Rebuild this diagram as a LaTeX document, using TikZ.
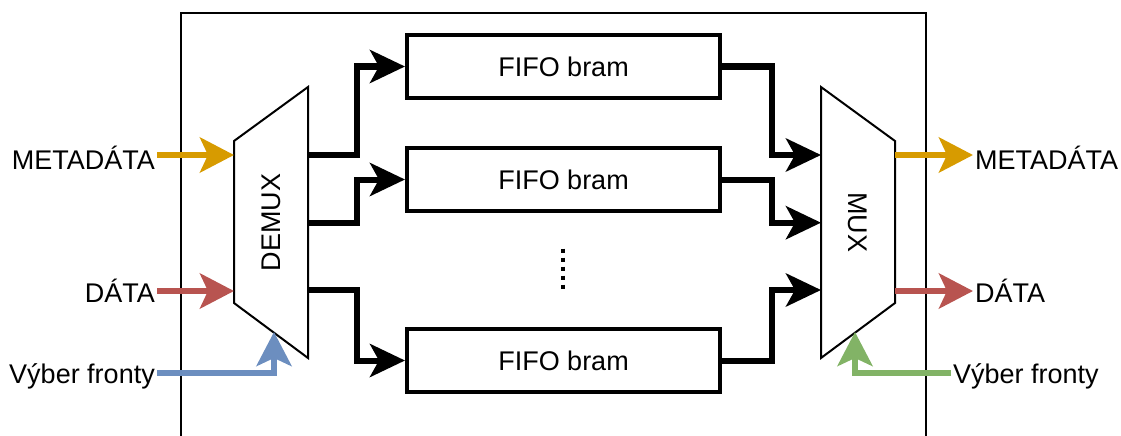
\documentclass[tikz,border=0pt]{standalone}
\usepackage{fontspec}
\setmainfont{Liberation Sans}
\usetikzlibrary{arrows.meta}
\definecolor{cyel}{HTML}{D79B00}
\definecolor{cred}{HTML}{B85450}
\definecolor{cblue}{HTML}{6C8EBF}
\definecolor{cgreen}{HTML}{82B366}
\begin{document}
\begin{tikzpicture}[x=1pt,y=-1pt,
  txt/.style={font=\fontsize{27}{32}\selectfont, inner sep=2pt},
  fifo/.style={draw, line width=4pt, minimum width=313pt, minimum height=63pt, inner sep=0pt, font=\fontsize{27}{32}\selectfont},
  bus/.style={line width=6pt, -{Stealth[length=35pt,width=33pt,inset=9pt]}},
  sig/.style={line width=6pt, -{Stealth[length=34pt,width=35pt,inset=8pt]}},
  muxshape/.style={draw, line width=2pt, fill=white, line join=miter}
]
\useasboundingbox (0,0) rectangle (1121,436);
% outer frame (open at bottom)
\draw[line width=2pt] (181,445) -- (181,13) -- (926,13) -- (926,445);

% FIFO boxes
\node[fifo] (f1) at (563.5,66.5) {FIFO bram};
\node[fifo] (f2) at (563.5,179.5) {FIFO bram};
\node[fifo] (f3) at (563.5,360.5) {FIFO bram};

% DEMUX and MUX shapes
\draw[muxshape] (234,141) -- (308,87) -- (308,358) -- (234,303) -- cycle;
\node[txt, rotate=90] (demux) at (271,222.5) {DEMUX};
\draw[muxshape] (821,87) -- (895,141) -- (895,303) -- (821,358) -- cycle;
\node[txt, rotate=-90] (mux) at (858,222.5) {MUX};

% ports
\coordinate (d1) at (308,155);
\coordinate (d2) at (308,222.7);
\coordinate (d3) at (308,290);
\coordinate (dm) at (234,155);
\coordinate (dd) at (234,291);
\coordinate (ds) at (274,332);
\coordinate (dsc) at (274,373);
\coordinate (m1) at (821,155);
\coordinate (m2) at (821,222.7);
\coordinate (m3) at (821,290);
\coordinate (mm) at (895,155);
\coordinate (md) at (895,291);
\coordinate (ms) at (855,332);
\coordinate (msc) at (855,373);

% black buses
\draw[bus] (d1) -- ++(49,0) |- (f1.west);
\draw[bus] (d2) -- ++(49,0) |- (f2.west);
\draw[bus] (d3) -- ++(49,0) |- (f3.west);
\draw[bus] (f1.east) -- ++(50,0) |- (m1);
\draw[bus] (f2.east) -- ++(50,0) |- (m2);
\draw[bus] (f3.east) -- ++(50,0) |- (m3);

% dots
\draw[line width=4pt, dash pattern=on 4pt off 5pt] (563.3,248.7) -- (563.3,290);

% labels
\node[txt, anchor=base east] (lmeta) at (157,169.5) {METADÁTA};
\node[txt, anchor=base east] (ldata) at (157,302.5) {DÁTA};
\node[txt, anchor=base east] (lsel) at (157,383) {Výber fronty};
\node[txt, anchor=base west] (rmeta) at (973,169.5) {METADÁTA};
\node[txt, anchor=base west] (rdata) at (973,302.5) {DÁTA};
\node[txt, anchor=base west] (rsel) at (951,383) {Výber fronty};

% coloured signals
\draw[sig, cyel] (lmeta.east |- dm) -- (dm);
\draw[sig, cred] (ldata.east |- dd) -- (dd);
\draw[sig, cblue] (lsel.east |- dsc) -| (ds);
\draw[sig, cyel] (mm) -- (rmeta.west |- mm);
\draw[sig, cred] (md) -- (rdata.west |- md);
\draw[sig, cgreen] (rsel.west |- msc) -| (ms);
\end{tikzpicture}
\end{document}
